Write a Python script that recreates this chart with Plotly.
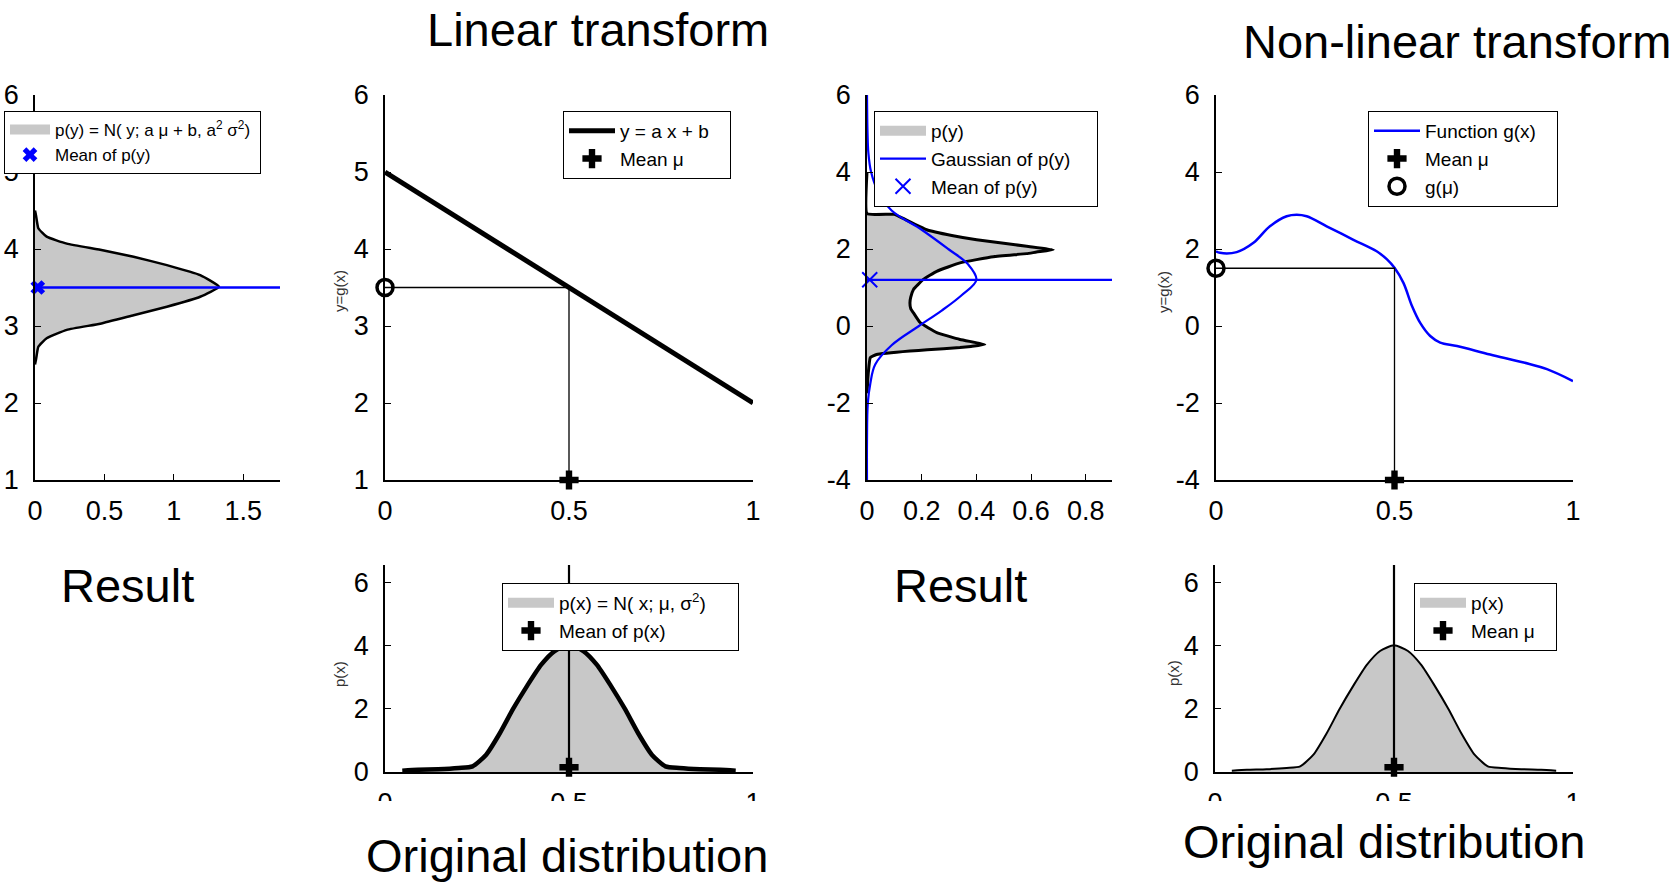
import plotly.graph_objects as go

W, H = 1677, 883
FONT = "Liberation Sans, Arial, sans-serif"
GRAY = "#c8c8c8"
BLUE = "#0000ff"
NB = "\u00a0"

# ---------------- data ----------------
# Panel 1: result of linear transform, p(y) (density vs y)
p1_y = [2.50, 2.56, 2.73, 2.84, 2.95, 3.03, 3.14, 3.25, 3.38, 3.51,
        3.66, 3.79, 3.90, 3.99, 4.07, 4.16, 4.27, 4.44, 4.50]
p1_density = [0.0, 0.007, 0.024, 0.084, 0.229, 0.47, 0.71, 0.95, 1.19, 1.325,
              1.19, 0.95, 0.71, 0.47, 0.229, 0.084, 0.024, 0.007, 0.0]
p1_mean = 3.5

# Panel 2: linear function y = a x + b
lin_x = [0.0, 1.0]
lin_y = [5.0, 2.0]
mu = 0.5
g_mu_lin = 3.5

# Panel 3: result of non-linear transform
p3_y = [4.0, 2.92, 2.90, 2.80, 2.50, 2.35, 2.24, 2.15, 2.07, 1.98, 1.92, 1.88,
        1.80, 1.64, 1.42, 1.21, 0.95, 0.75, 0.60, 0.45, 0.34, 0.09, -0.17,
        -0.35, -0.48, -0.53, -0.56, -0.62, -0.65, -0.74, -0.82, -1.2, -1.75]
p3_density = [0.0, 0.0, 0.10, 0.13, 0.218, 0.31, 0.401, 0.50, 0.584, 0.681,
              0.62, 0.584, 0.462, 0.34, 0.255, 0.206, 0.17, 0.16, 0.157, 0.16,
              0.17, 0.194, 0.255, 0.34, 0.431, 0.38, 0.34, 0.22, 0.157, 0.035,
              0.012, 0.005, 0.0]
gauss3_y = [-4, -3, -2, -1.5, -1, -0.5, 0, 0.4, 0.8, 1.2, 1.6, 2.0, 2.5, 3.0,
            3.5, 4.0, 4.5, 5, 6]
gauss3_density = [0.0, 0.0, 0.003, 0.012, 0.03, 0.09, 0.19, 0.273, 0.346, 0.40,
                  0.37, 0.297, 0.20, 0.09, 0.04, 0.015, 0.005, 0.002, 0.0]
p3_mean = 1.2

# Panel 4: non-linear function g(x)
g4_x = [0.0, 0.011, 0.058, 0.105, 0.151, 0.198, 0.226, 0.254, 0.31, 0.385,
        0.45, 0.479, 0.5, 0.525, 0.549, 0.572, 0.6, 0.628, 0.675, 0.768,
        0.862, 0.927, 1.0]
g4_y = [1.94, 1.90, 1.92, 2.16, 2.59, 2.85, 2.89, 2.85, 2.59, 2.24, 1.94,
        1.73, 1.51, 1.12, 0.52, 0.08, -0.26, -0.43, -0.52, -0.74, -0.95,
        -1.12, -1.43]
g_mu_nl = 1.5

# Original distribution p(x)
px_x = [0.047, 0.089, 0.144, 0.2, 0.238, 0.275, 0.312, 0.348, 0.387, 0.424,
        0.461, 0.5, 0.539, 0.576, 0.613, 0.652, 0.688, 0.725, 0.762, 0.80,
        0.856, 0.911, 0.953]
px_density = [0.04, 0.07, 0.09, 0.13, 0.18, 0.55, 1.23, 2.0, 2.75, 3.40,
              3.84, 4.02, 3.84, 3.40, 2.75, 2.0, 1.23, 0.55, 0.18, 0.13,
              0.09, 0.07, 0.04]
px_mean_marker_y = 0.15

# axis ranges
P1_X = [0, 1.765]; P1_Y = [1, 6]
P2_X = [0, 1];     P2_Y = [1, 6]
P3_X = [0, 0.896]; P3_Y = [-4, 6]
P4_X = [0, 1];     P4_Y = [-4, 6]
B_X = [0, 1];      B_Y = [0, 6.57]

# ---------------- helpers ----------------
def xax(x0, x1, rng, tv, anchor):
    return dict(domain=[x0 / W, x1 / W], range=rng, tickvals=tv,
                ticktext=["%g" % v for v in tv],
                anchor=anchor, showline=True, linecolor="black", linewidth=1.5,
                ticks="inside", ticklen=6, tickwidth=1.2, tickcolor="black",
                showgrid=False, zeroline=False, ticklabelstandoff=6,
                tickfont=dict(size=27, family=FONT, color="black"), fixedrange=True)

def yax(y0, y1, rng, tv, anchor):
    d = xax(0, 1, rng, tv, anchor)
    d["domain"] = [1 - y1 / H, 1 - y0 / H]
    d["ticklabelstandoff"] = 9
    return d

def leg(X, Y, size=19, iw=46):
    return dict(x=X / W, y=1 - Y / H, xanchor="left", yanchor="top",
                bgcolor="white", bordercolor="black", borderwidth=1,
                font=dict(size=size, family=FONT, color="black"),
                itemwidth=iw, tracegroupgap=0, traceorder="normal")

def ann(text, X, Y, size, angle=0, color="black"):
    return dict(x=X / W, y=1 - Y / H, xref="paper", yref="paper", text=text,
                showarrow=False, textangle=angle, xanchor="center", yanchor="middle",
                font=dict(size=size, family=FONT, color=color))

def patch(name, lg, xa, ya):
    # legend-only gray patch entry
    return go.Scatter(x=[None], y=[None], xaxis=xa, yaxis=ya, mode="lines",
                      line=dict(color=GRAY, width=16), name=name, legend=lg)

fig = go.Figure()

# ---------------- Panel 1 ----------------
fig.add_trace(patch("p(y) = N( y; a \u03bc + b, a<sup>2</sup> \u03c3<sup>2</sup>)" + NB, "legend", "x", "y"))
fig.add_trace(go.Scatter(x=p1_density, y=p1_y, xaxis="x", yaxis="y", mode="lines",
                         fill="toself", fillcolor=GRAY,
                         line=dict(color="black", width=2.5, shape="spline", smoothing=0.4),
                         showlegend=False))
fig.add_trace(go.Scatter(x=P1_X, y=[p1_mean, p1_mean], xaxis="x", yaxis="y", mode="lines",
                         line=dict(color=BLUE, width=2.5), showlegend=False))
fig.add_trace(go.Scatter(x=[0.02], y=[p1_mean], xaxis="x", yaxis="y", mode="markers",
                         marker=dict(symbol="x", size=13, color=BLUE),
                         name="Mean of p(y)", legend="legend", cliponaxis=False))

# ---------------- Panel 2 ----------------
fig.add_trace(go.Scatter(x=lin_x, y=lin_y, xaxis="x2", yaxis="y2", mode="lines",
                         line=dict(color="black", width=5), name="y = a x + b" + NB * 3,
                         legend="legend2"))
fig.add_trace(go.Scatter(x=[0, mu, mu], y=[g_mu_lin, g_mu_lin, P2_Y[0]], xaxis="x2", yaxis="y2",
                         mode="lines", line=dict(color="black", width=1.3), showlegend=False))
fig.add_trace(go.Scatter(x=[0], y=[g_mu_lin], xaxis="x2", yaxis="y2", mode="markers",
                         marker=dict(symbol="circle-open", size=16, color="black",
                                     line=dict(width=3.5, color="black")),
                         showlegend=False, cliponaxis=False))
fig.add_trace(go.Scatter(x=[mu], y=[P2_Y[0]], xaxis="x2", yaxis="y2", mode="markers",
                         marker=dict(symbol="cross", size=16, color="black"),
                         name="Mean \u03bc", legend="legend2", cliponaxis=False))

# ---------------- Panel 3 ----------------
fig.add_trace(patch("p(y)", "legend3", "x3", "y3"))
fig.add_trace(go.Scatter(x=p3_density, y=p3_y, xaxis="x3", yaxis="y3", mode="lines",
                         fill="toself", fillcolor=GRAY,
                         line=dict(color="black", width=3, shape="spline", smoothing=0.35),
                         showlegend=False))
fig.add_trace(go.Scatter(x=gauss3_density, y=gauss3_y, xaxis="x3", yaxis="y3", mode="lines",
                         line=dict(color=BLUE, width=2.2, shape="spline"),
                         name="Gaussian of p(y)" + NB * 4, legend="legend3", cliponaxis=False))
fig.add_trace(go.Scatter(x=P3_X, y=[p3_mean, p3_mean], xaxis="x3", yaxis="y3", mode="lines",
                         line=dict(color=BLUE, width=2.2), showlegend=False))
fig.add_trace(go.Scatter(x=[0.01], y=[p3_mean], xaxis="x3", yaxis="y3", mode="markers",
                         marker=dict(symbol="x-thin", size=15, color=BLUE,
                                     line=dict(width=2, color=BLUE)),
                         name="Mean of p(y)", legend="legend3", cliponaxis=False))

# ---------------- Panel 4 ----------------
fig.add_trace(go.Scatter(x=g4_x, y=g4_y, xaxis="x4", yaxis="y4", mode="lines",
                         line=dict(color=BLUE, width=2.5, shape="spline"),
                         name="Function g(x)" + NB * 3, legend="legend4"))
fig.add_trace(go.Scatter(x=[0, mu, mu], y=[g_mu_nl, g_mu_nl, P4_Y[0]], xaxis="x4", yaxis="y4",
                         mode="lines", line=dict(color="black", width=1.3), showlegend=False))
fig.add_trace(go.Scatter(x=[mu], y=[P4_Y[0]], xaxis="x4", yaxis="y4", mode="markers",
                         marker=dict(symbol="cross", size=16, color="black"),
                         name="Mean \u03bc", legend="legend4", cliponaxis=False))
fig.add_trace(go.Scatter(x=[0], y=[g_mu_nl], xaxis="x4", yaxis="y4", mode="markers",
                         marker=dict(symbol="circle-open", size=16, color="black",
                                     line=dict(width=3.5, color="black")),
                         name="g(\u03bc)", legend="legend4", cliponaxis=False))

# ---------------- Bottom panels: original distribution ----------------
for xa, ya, lg, lw, n1, n2 in [("x5", "y5", "legend5", 4.5,
                                "p(x) = N( x; \u03bc, \u03c3<sup>2</sup>)" + NB * 5, "Mean of p(x)"),
                               ("x6", "y6", "legend6", 2,
                                "p(x)", "Mean \u03bc" + NB * 3)]:
    fig.add_trace(patch(n1, lg, xa, ya))
    fig.add_trace(go.Scatter(x=px_x, y=px_density, xaxis=xa, yaxis=ya, mode="lines",
                             fill="tozeroy", fillcolor=GRAY,
                             line=dict(color="black", width=lw, shape="spline", smoothing=0.6),
                             showlegend=False))
    fig.add_trace(go.Scatter(x=[mu, mu], y=B_Y, xaxis=xa, yaxis=ya, mode="lines",
                             line=dict(color="black", width=2.2), showlegend=False))
    fig.add_trace(go.Scatter(x=[mu], y=[px_mean_marker_y], xaxis=xa, yaxis=ya, mode="markers",
                             marker=dict(symbol="cross", size=16, color="black"),
                             name=n2, legend=lg, cliponaxis=False))

fig.update_layout(
    width=W, height=H, margin=dict(l=0, r=0, t=0, b=0, autoexpand=False),
    paper_bgcolor="white", plot_bgcolor="white", showlegend=True,
    font=dict(family=FONT, color="black"),
    xaxis=xax(35, 280, P1_X, [0, 0.5, 1, 1.5], "y"),
    yaxis=yax(95, 480, P1_Y, [1, 2, 3, 4, 5, 6], "x"),
    xaxis2=xax(385, 753, P2_X, [0, 0.5, 1], "y2"),
    yaxis2=yax(95, 480, P2_Y, [1, 2, 3, 4, 5, 6], "x2"),
    xaxis3=xax(867, 1112, P3_X, [0, 0.2, 0.4, 0.6, 0.8], "y3"),
    yaxis3=yax(95, 480, P3_Y, [-4, -2, 0, 2, 4, 6], "x3"),
    xaxis4=xax(1216, 1573, P4_X, [0, 0.5, 1], "y4"),
    yaxis4=yax(95, 480, P4_Y, [-4, -2, 0, 2, 4, 6], "x4"),
    xaxis5=xax(385, 753, B_X, [0, 0.5, 1], "y5"),
    yaxis5=yax(565, 772, B_Y, [0, 2, 4, 6], "x5"),
    xaxis6=xax(1215, 1573, B_X, [0, 0.5, 1], "y6"),
    yaxis6=yax(565, 772, B_Y, [0, 2, 4, 6], "x6"),
    legend=leg(4, 111, size=17, iw=40),
    legend2=leg(563, 111),
    legend3=leg(874, 111),
    legend4=leg(1368, 111),
    legend5=leg(502, 583),
    legend6=leg(1414, 583),
    annotations=[
        ann("Linear transform", 598, 29, 47),
        ann("Non-linear transform", 1457, 41, 47),
        ann("Result", 127, 585, 47),
        ann("Result", 960, 585, 47),
        ann("Original distribution", 567, 855, 47),
        ann("Original distribution", 1384, 841, 47),
        ann("y=g(x)", 339, 291, 15, -90, "#333333"),
        ann("y=g(x)", 1163, 292, 15, -90, "#333333"),
        ann("p(x)", 339, 674, 15, -90, "#333333"),
        ann("p(x)", 1173, 673, 15, -90, "#333333"),
    ],
    shapes=[dict(type="rect", xref="paper", yref="paper", x0=300 / W, x1=1640 / W,
                 y0=1 - 836 / H, y1=1 - 801 / H, fillcolor="white",
                 line=dict(width=0), layer="above")],
)

fig.write_html("out.html", include_plotlyjs=True, config={"displayModeBar": False},
               post_script="document.body.style.margin='0px';")
